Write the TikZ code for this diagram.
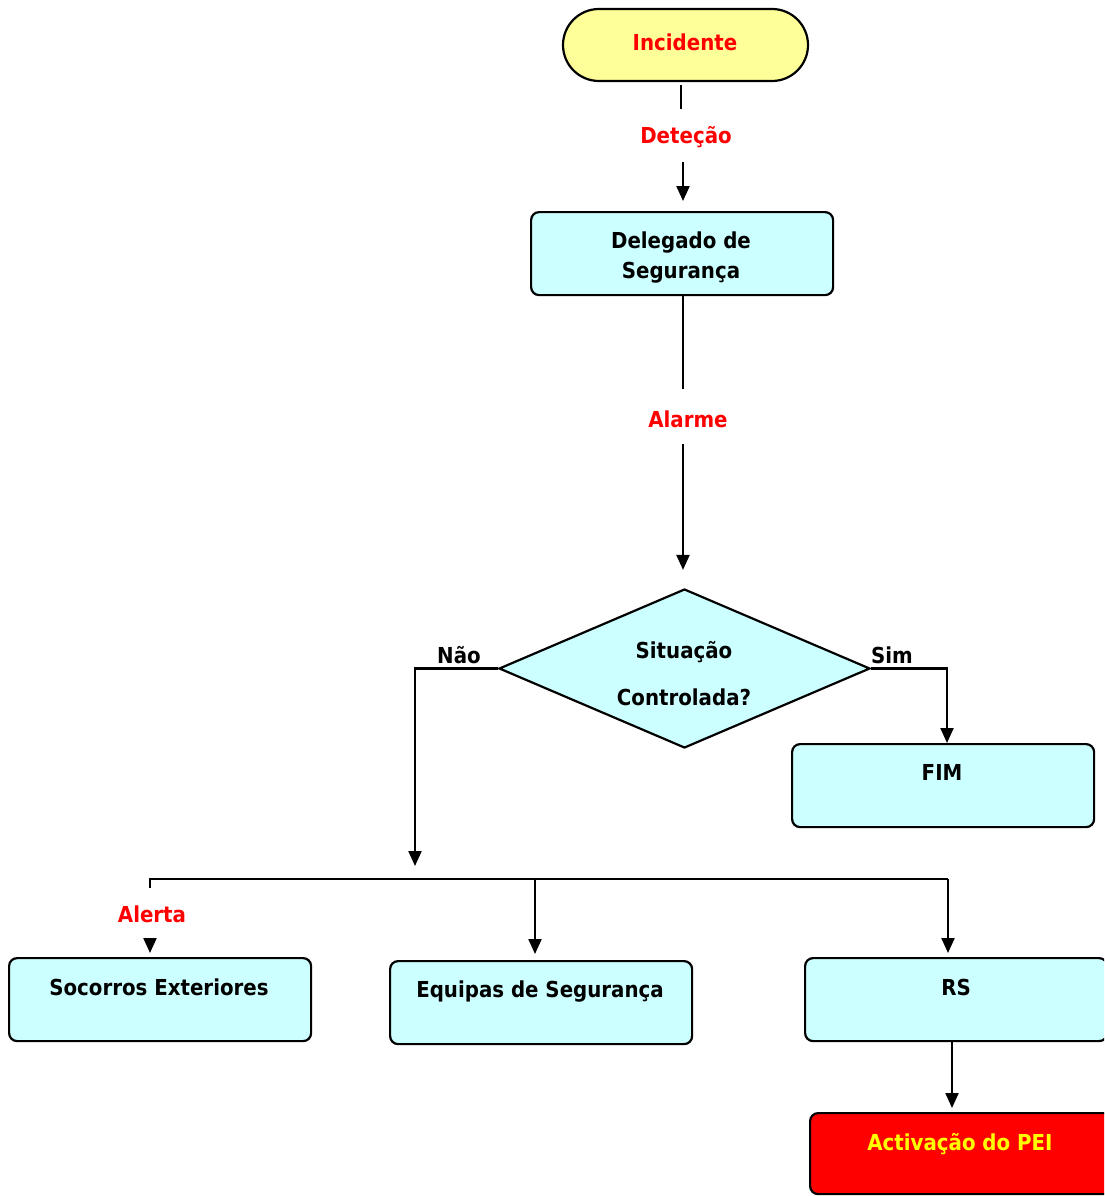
\documentclass[tikz,border=0pt]{standalone}
\usepackage{fontspec}
\setmainfont{DejaVu Sans Condensed}
\usetikzlibrary{arrows.meta,shapes.geometric}
\definecolor{boxc}{RGB}{204,255,255}
\definecolor{incc}{RGB}{255,255,153}
\definecolor{peiy}{RGB}{255,255,0}
\begin{document}
\begin{tikzpicture}[x=1pt,y=-1pt,line width=2.2pt,
  box/.style={draw,rounded corners=8pt,fill=boxc,minimum width=302pt,minimum height=83pt,inner sep=0pt,anchor=north west},
  txt/.style={font=\bfseries\fontsize{22}{26}\selectfont,inner sep=0pt,anchor=base},
  lbl/.style={txt,text=red},
  arr/.style={-{Triangle[width=13pt,length=15pt]}}]
\clip (0,0) rectangle (1104,1196);
% shapes
\node[draw,fill=incc,rounded corners=36pt,minimum width=245pt,minimum height=72pt,inner sep=0pt] (inc) at (685.5,45) {};
\node[box] (del) at (530,211) {};
\node[diamond,draw,fill=boxc,minimum width=371pt,minimum height=159pt,inner sep=0pt] (dia) at (684.5,668.5) {};
\node[box] (fim) at (791,743) {};
\node[box] (soc) at (8,957) {};
\node[box] (equ) at (389,960) {};
\node[box] (rs) at (804,957) {};
\node[box,fill=red,minimum height=81pt] (pei) at (809,1112) {};
% texts
\node[lbl] (inct) at (685,51) {Incidente};
\node[lbl] (det) at (686,143) {Deteção};
\node[txt] (delt1) at (681,248) {Delegado de};
\node[txt] (delt2) at (681,278) {Segurança};
\node[lbl] (alm) at (688,427) {Alarme};
\node[txt] (diat1) at (684,658) {Situação};
\node[txt] (diat2) at (684,705) {Controlada?};
\node[txt] (nao) at (459,663) {Não};
\node[txt] (sim) at (892,663) {Sim};
\node[txt] (fimt) at (942,780) {FIM};
\node[lbl] (alt) at (152,922) {Alerta};
\node[txt] (soct) at (159,995) {Socorros Exteriores};
\node[txt] (equt) at (540,997) {Equipas de Segurança};
\node[txt] (rst) at (956,995) {RS};
\node[txt,text=peiy] (peit) at (960,1150) {Activação do PEI};
% coordinates
\coordinate (naoend) at (415,866);
\coordinate (busL) at (150,879);
\coordinate (busE) at (535,879);
\coordinate (busR) at (948,879);
\coordinate (simx) at (947,0);
\coordinate (pix) at (952,0);
% connectors
\draw[shorten <=3pt,shorten >=16pt] (inc.south -| 681,0) -- (det.north -| 681,0);
\draw[arr,shorten <=14pt,shorten >=10pt] (det.south -| 683,0) -- (del.north -| 683,0);
\draw[shorten >=20pt] (del.south -| 683,0) -- (alm.north -| 683,0);
\draw[arr,shorten <=16pt,shorten >=18pt] (alm.south -| 683,0) -- (dia.north -| 683,0);
\draw[arr] (dia.east) -| (simx |- fim.north);
\draw[arr] (dia.west) -| (naoend);
\draw (busL) ++(0,9) -- (busL) -- (busR);
\draw[arr,shorten >=6pt] (busE) -- (busE |- equ.north);
\draw[arr,shorten >=4pt] (busR) -- (busR |- rs.north);
\draw[arr,shorten <=16pt,shorten >=4pt] (alt.south -| busL) -- (busL |- soc.north);
\draw[arr,shorten >=4pt] (pix |- rs.south) -- (pix |- pei.north);
\end{tikzpicture}
\end{document}
